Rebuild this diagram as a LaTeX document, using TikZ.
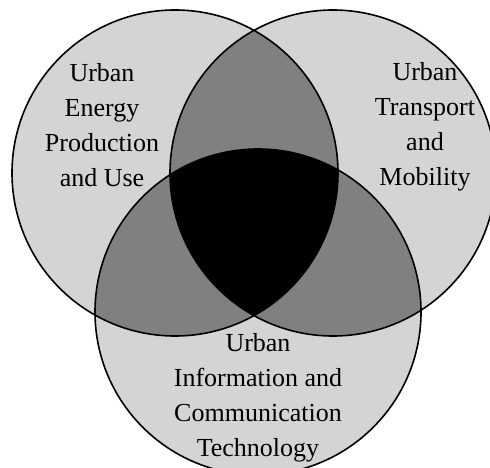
\documentclass[tikz,border=0pt]{standalone}
\usepackage{fontspec}
\setmainfont{Liberation Serif}
\definecolor{litegray}{gray}{0.83}
\definecolor{midgray}{gray}{0.5}
\begin{document}
\begin{tikzpicture}[x=1pt,y=-1pt,
  ring/.style={draw=black,line width=1.6pt},
  venntext/.style={align=center,inner sep=0pt,font=\fontsize{26}{35}\selectfont}]
\useasboundingbox (0,0) rectangle (490,468);
\clip (0,0) rectangle (490,468);
\coordinate (energy) at (175,173);
\coordinate (transport) at (333,173);
\coordinate (ict) at (258,312);
\fill[litegray] (energy) circle (163pt) (transport) circle (163pt) (ict) circle (163pt);
\begin{scope}
\clip (energy) circle (163pt);
\fill[midgray] (transport) circle (163pt) (ict) circle (163pt);
\end{scope}
\begin{scope}
\clip (transport) circle (163pt);
\fill[midgray] (ict) circle (163pt);
\end{scope}
\begin{scope}
\clip (energy) circle (163pt);
\clip (transport) circle (163pt);
\fill[black] (ict) circle (163pt);
\end{scope}
\draw[ring] (energy) circle (163pt) (transport) circle (163pt) (ict) circle (163pt);
\node[venntext] (energytext) at (102,125) {Urban\\Energy\\Production\\and Use};
\node[venntext] (transporttext) at (425,127) {Urban\\Transport\\and\\Mobility};
\node[venntext] (icttext) at (258,398) {Urban\\Information and\\Communication\\Technology};
\end{tikzpicture}
\end{document}
